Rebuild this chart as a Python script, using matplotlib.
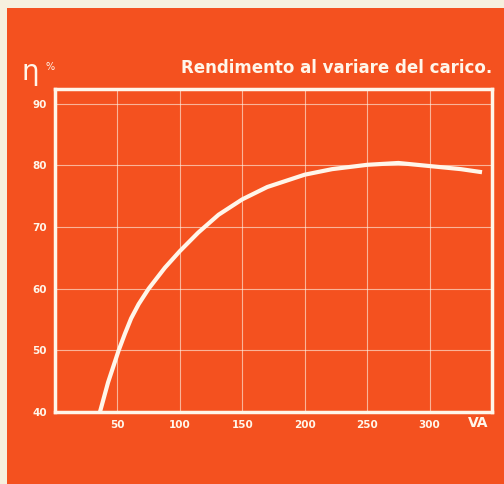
import matplotlib
matplotlib.use("Agg")
import matplotlib.pyplot as plt
from matplotlib.patches import Rectangle

# dati
carico_va = [36, 42.5, 51, 56, 61, 67, 75, 88, 100, 114.7, 131, 150, 170, 200, 222, 250,
             275, 300, 325, 342]
rendimento = [40, 44.8, 50, 52.7, 55.2, 57.5, 60, 63.4, 66.1, 69.1, 72, 74.5, 76.5, 78.5, 79.4, 80.1,
              80.4, 79.9, 79.4, 78.9]

x_ticks = [50, 100, 150, 200, 250, 300]
y_ticks = [40, 50, 60, 70, 80, 90]

arancio = '#F4511F'
crema = '#F6F0DE'
bianco = '#FFF6EA'

fig = plt.figure(figsize=(5.04, 4.84), dpi=100, facecolor=arancio)

# bordo chiaro della scansione (sinistra e in alto)
fig.patches.append(Rectangle((0, 0), 7/504, 1, transform=fig.transFigure,
                             facecolor=crema, edgecolor='none', zorder=-10))
fig.patches.append(Rectangle((0, 1 - 8/484), 1, 8/484, transform=fig.transFigure,
                             facecolor=crema, edgecolor='none', zorder=-10))

ax = fig.add_axes([55/504, 1 - 412/484, (492-55)/504, (412-89)/484])
ax.set_facecolor(arancio)

for v in x_ticks:
    ax.axvline(v, color=bianco, lw=0.8, alpha=0.6, zorder=1)
for v in y_ticks[1:]:
    ax.axhline(v, color=bianco, lw=0.8, alpha=0.6, zorder=1)

ax.plot(carico_va, rendimento, color=bianco, lw=3, solid_capstyle='butt',
        solid_joinstyle='round', zorder=3)

ax.set_xlim(0, 350)
ax.set_ylim(40, 92.4)

for s in ax.spines.values():
    s.set_color(bianco)
    s.set_linewidth(2.5)

ax.set_xticks(x_ticks)
ax.set_yticks(y_ticks)
ax.set_xticklabels([str(v) for v in x_ticks])
ax.set_yticklabels([str(v) for v in y_ticks])
ax.tick_params(length=0, colors=bianco, labelsize=7.5, pad=6)
for lab in ax.get_xticklabels() + ax.get_yticklabels():
    lab.set_fontweight('bold')

fig.text(478/504, 1 - 423/484, 'VA', color=bianco, fontsize=10, fontweight='bold',
         ha='center', va='center')

fig.text(22/504, 1 - 72/484, 'η', color=bianco, fontsize=20, ha='left', va='center')
fig.text(45/504, 1 - 67/484, '%', color=bianco, fontsize=7, ha='left', va='center')

fig.text(492/504, 1 - 68/484, 'Rendimento al variare del carico.', color=bianco,
         fontsize=12, fontweight='bold', ha='right', va='center')

fig.savefig('out.png', dpi=100, facecolor=arancio)
